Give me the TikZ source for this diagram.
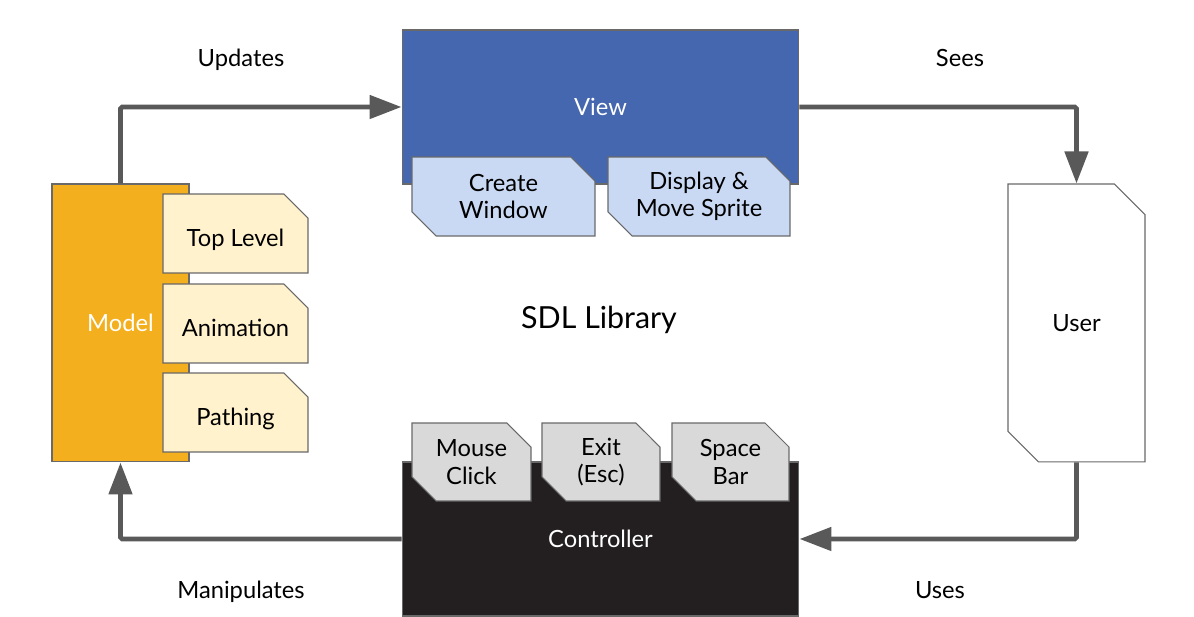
\documentclass[tikz,border=0pt]{standalone}
\usepackage{fontspec}
\setmainfont{Lato}
\usetikzlibrary{arrows.meta,shapes.misc}

\definecolor{modelorange}{RGB}{244,175,30}
\definecolor{modelpart}{RGB}{255,242,204}
\definecolor{viewblue}{RGB}{69,103,176}
\definecolor{viewpart}{RGB}{201,217,244}
\definecolor{ctrlblack}{RGB}{35,31,32}
\definecolor{ctrlpart}{RGB}{217,217,217}
\definecolor{edgegray}{RGB}{105,105,105}
\definecolor{flowgray}{RGB}{89,89,89}

\tikzset{
  block/.style={draw=edgegray, line width=0.6pt, inner sep=0pt, text=white,
    font=\fontsize{13.5}{15.5}\selectfont},
  part/.style={block, text=black, align=center, chamfered rectangle,
    chamfered rectangle xsep=0.24cm, chamfered rectangle ysep=0.24cm},
  oneline/.style={text height=14.7pt, text depth=0pt},
  flow/.style={draw=flowgray, line width=2.8pt, rounded corners=1pt,
    -{Triangle[length=0.64cm,width=0.46cm]}},
  caption/.style={anchor=base, font=\fontsize{13.5}{15.5}\selectfont}
}

\begin{document}
\begin{tikzpicture}[x=0.02cm,y=-0.02cm]
  \useasboundingbox (0,0) rectangle (1194,617);

  \node[block, fill=modelorange, minimum width=2.74cm, minimum height=5.56cm] (model) at (120.5,323) {Model};
  \node[part, oneline, fill=modelpart, minimum width=2.9cm, minimum height=1.58cm,
    chamfered rectangle corners=north east] (toplevel) at (235.5,233.5) {Top Level};
  \node[part, oneline, fill=modelpart, minimum width=2.9cm, minimum height=1.58cm,
    chamfered rectangle corners=north east] (animation) at (235.5,323.5) {Animation};
  \node[part, oneline, fill=modelpart, minimum width=2.9cm, minimum height=1.58cm,
    chamfered rectangle corners=north east] (pathing) at (235.5,412.5) {Pathing};

  \node[block, fill=viewblue, minimum width=7.94cm, minimum height=3.08cm, text depth=-1pt] (view) at (600.5,107) {View};
  \node[part, fill=viewpart, minimum width=3.66cm, minimum height=1.58cm,
    chamfered rectangle corners={north east,south west}] (window) at (503.5,196.5) {Create\\Window};
  \node[part, fill=viewpart, minimum width=3.64cm, minimum height=1.58cm,
    chamfered rectangle corners={north east,south west}] (sprite) at (699,196.5) {Display \&\\Move Sprite};

  \node[block, fill=ctrlblack, minimum width=7.94cm, minimum height=3.08cm] (controller) at (600.5,539) {Controller};
  \node[part, fill=ctrlpart, minimum width=2.38cm, minimum height=1.56cm,
    chamfered rectangle corners={north east,south west}] (mouse) at (471.5,462) {Mouse\\Click};
  \node[part, fill=ctrlpart, minimum width=2.36cm, minimum height=1.56cm,
    chamfered rectangle corners={north east,south west}] (exit) at (601,462) {Exit\\(Esc)};
  \node[part, fill=ctrlpart, minimum width=2.34cm, minimum height=1.56cm,
    chamfered rectangle corners={north east,south west}] (space) at (730.5,462) {Space\\Bar};

  \node[part, fill=white, minimum width=2.74cm, minimum height=5.56cm,
    chamfered rectangle corners={north east,south west},
    chamfered rectangle xsep=0.44cm, chamfered rectangle ysep=0.44cm] (user) at (1076.5,323) {User};

  \node[font=\fontsize{17.3}{20}\selectfont] (sdl) at (599,320) {SDL Library};

  \node[caption] (updates) at (241,66.5) {Updates};
  \node[caption] (sees) at (960,66.5) {Sees};
  \node[caption] (uses) at (940,598.5) {Uses};
  \node[caption] (manipulates) at (241,598.5) {Manipulates};

  \draw[flow] (model.north) |- (view.west);
  \draw[flow] (view.east) -| (user.north);
  \draw[flow] (user.south) |- (controller.east);
  \draw[flow] (controller.west) -| (model.south);
\end{tikzpicture}
\end{document}
